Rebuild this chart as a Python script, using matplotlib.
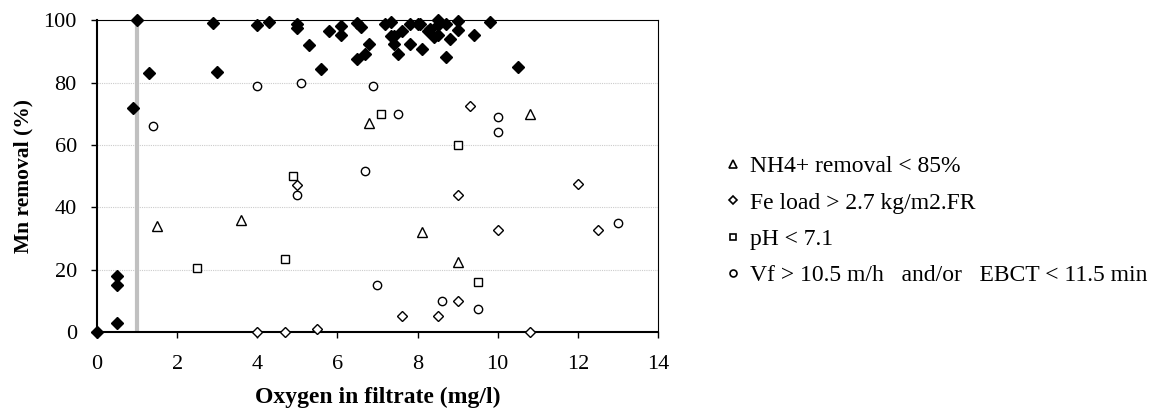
import matplotlib.pyplot as plt
from matplotlib.lines import Line2D

plt.rcParams['font.family'] = ['Liberation Serif', 'DejaVu Serif']

# filled diamonds: all data
all_x = [0, 0.5, 0.5, 0.5, 0.9, 1.0, 1.3, 2.9, 3.0, 4.0, 4.3, 5.0, 5.0, 5.3, 5.6,
         5.8, 6.1, 6.1, 6.5, 6.6, 6.5, 6.7, 6.8, 7.2, 7.35, 7.4, 7.35, 7.4, 7.5, 7.6,
         7.8, 7.8, 8.0, 8.05, 8.1, 8.25, 8.3, 8.4, 8.5, 8.5, 8.5, 8.7, 8.8, 8.7, 9.0,
         9.0, 9.4, 9.8, 10.5]
all_y = [0, 3, 15, 18, 72, 100, 83, 99, 83.5, 98.5, 99.5, 98.7, 97.4, 92, 84.5,
         96.6, 98, 95.2, 99, 97.8, 87.5, 89.3, 92.4, 98.8, 99.5, 94.9, 94.9, 92.5, 89.3, 96.5,
         92.4, 98.9, 98.9, 98.9, 90.7, 96.5, 97.3, 94.6, 100, 95.4, 98.5, 98.7, 94.1, 88.1, 99.6,
         96.7, 95.3, 99.5, 85]

nh4_x = [1.5, 3.6, 6.8, 8.1, 9.0, 10.8]
nh4_y = [34, 36, 67, 32, 22.5, 70]

fe_x = [4.0, 4.7, 5.0, 5.5, 7.6, 8.5, 9.0, 9.0, 9.3, 10.0, 10.8, 12.0, 12.5]
fe_y = [0, 0, 47.3, 1, 5, 5, 10, 44, 72.5, 32.7, 0, 47.6, 32.7]

ph_x = [2.5, 4.7, 4.9, 7.1, 9.0, 9.5]
ph_y = [20.7, 23.4, 50, 70, 60, 16]

vf_x = [1.4, 4.0, 5.1, 5.0, 6.7, 6.9, 7.0, 7.5, 8.6, 9.5, 10.0, 10.0, 13.0]
vf_y = [66, 79, 80, 44, 51.5, 79, 15, 70, 10, 7.5, 69, 64, 35]

labels = ["NH4+ removal < 85%", "Fe load > 2.7 kg/m2.FR", "pH < 7.1",
          "Vf > 10.5 m/h   and/or   EBCT < 11.5 min"]

fig = plt.figure(figsize=(11.57, 4.12), dpi=100)
ax = fig.add_axes([0.0838, 0.194, 0.4849, 0.757])

for y in [20, 40, 60, 80]:
    ax.axhline(y, color='#cccccc', lw=0.8, ls=(0, (1, 1)), zorder=0)
ax.axvline(1, color='#c0c0c0', lw=3, zorder=1)

ax.plot(all_x, all_y, 'D', color='black', ms=6.5, zorder=2, clip_on=False)
ax.plot(nh4_x, nh4_y, '^', mfc='white', mec='black', mew=1, ms=7.5, zorder=3, clip_on=False)
ax.plot(fe_x, fe_y, 'D', mfc='white', mec='black', mew=1, ms=5.5, zorder=3, clip_on=False)
ax.plot(ph_x, ph_y, 's', mfc='white', mec='black', mew=1, ms=6, zorder=3, clip_on=False)
ax.plot(vf_x, vf_y, 'o', mfc='white', mec='black', mew=1, ms=6, zorder=3, clip_on=False)

ax.set_xlim(0, 14)
ax.set_ylim(0, 100)
ax.set_xticks(range(0, 15, 2))
ax.set_yticks(range(0, 101, 20))
ax.tick_params(labelsize=16, direction='out', length=4.5, width=1)
ax.tick_params(axis='y', pad=10)
ax.tick_params(axis='x', pad=12)
ax.spines['left'].set_linewidth(1.5)
ax.spines['bottom'].set_linewidth(1.5)
ax.spines['top'].set_linewidth(0.8)
ax.spines['right'].set_linewidth(0.8)
ax.set_xlabel("Oxygen in filtrate (mg/l)", fontsize=17, fontweight='bold', labelpad=9)
ax.set_ylabel("Mn removal (%)", fontsize=15.5, fontweight='bold', labelpad=7)

handles = [
    Line2D([], [], ls='none', marker='^', mfc='white', mec='black', mew=1.2, ms=6),
    Line2D([], [], ls='none', marker='D', mfc='white', mec='black', mew=1.2, ms=4.5),
    Line2D([], [], ls='none', marker='s', mfc='white', mec='black', mew=1.2, ms=5),
    Line2D([], [], ls='none', marker='o', mfc='white', mec='black', mew=1.2, ms=5),
]
fig.legend(handles, labels, loc='upper left', bbox_to_anchor=(0.6275, 0.622),
           frameon=False, fontsize=17, handlelength=0.6, handletextpad=0.42,
           labelspacing=0.63, borderpad=0, borderaxespad=0)

fig.savefig("out.png", dpi=100)
